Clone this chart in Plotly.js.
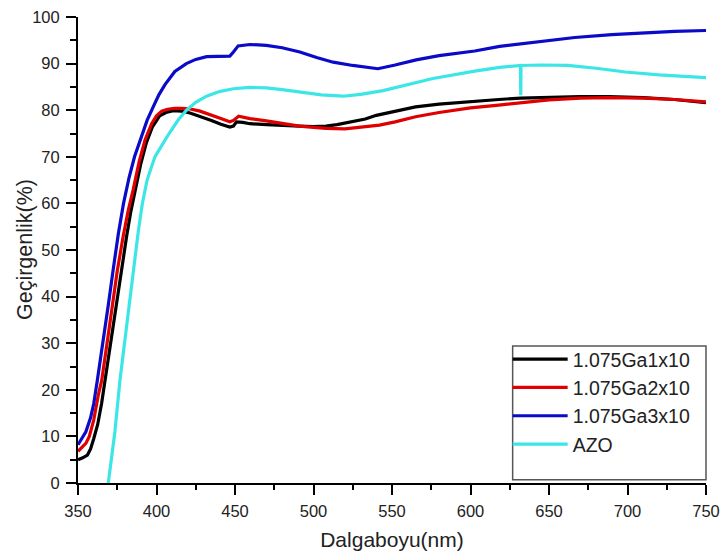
<!DOCTYPE html>
<html>
<head>
<meta charset="utf-8">
<script src="https://cdn.plot.ly/plotly-3.0.1.min.js"></script>
<style>html,body{margin:0;padding:0;background:#fff;}#chart{width:725px;height:558px;}</style>
</head>
<body>
<div id="chart"></div>
<script>
// 1.075Ga1x10 (black)
const xGa1 = [350,353,356,358,360,362.5,365,367.2,370.5,374,377.5,381,383.5,386.5,390,393.5,397.5,402,406,410.7,416,421.3,427.7,435,441,446.7,449,451,455,459.5,470,480,491,500,508,515,525,533,540,552,565,580,600,618,632,650,670,688,710,730,750];
const yGa1 = [5.0,5.4,6.0,7.3,9.5,12.5,17,22,30,38.2,46,53,58,63,68.5,73,76.5,78.8,79.5,79.9,79.8,79.4,78.7,77.8,77.0,76.4,76.6,77.5,77.4,77.1,76.9,76.7,76.6,76.5,76.6,76.9,77.5,78.1,78.9,79.7,80.7,81.3,81.9,82.3,82.6,82.8,82.9,82.9,82.7,82.3,81.6];
// 1.075Ga2x10 (red)
const xGa2 = [350,352,355,357.2,360,363,365.1,368.5,371.8,375,378.8,382,385.2,389,392.7,396.9,400,403.3,407,411.7,416,421,427.7,435,441,446.7,449,452.3,459.5,470,480,491,500,508,520,530,542,552,565,580,600,618,632,650,670,687,710,730,750];
const yGa2 = [6.8,7.5,8.5,10,13.5,19,22,30,38.2,45.5,53,58.5,63,69,73.6,77.1,78.8,79.8,80.2,80.4,80.4,80.3,79.8,79.0,78.2,77.5,77.8,78.7,78.2,77.7,77.1,76.6,76.3,76.1,76.0,76.3,76.8,77.5,78.6,79.5,80.5,81.1,81.6,82.2,82.6,82.7,82.6,82.3,81.8];
// 1.075Ga3x10 (blue)
const xGa3 = [350,353,355,358,360,362.3,365.5,369.3,372.5,375.7,379,382.5,386,390.5,394,397.9,401.5,405.4,411.7,419,425,431.9,440,446.7,449,452,459.5,470,480,491.3,502,512.5,525,535,541,552,565.4,580,602.7,618.6,640,666.4,690,710,730,750];
const yGa3 = [8.2,10,11,14,17,22,30,38.2,46,53.5,60,65.5,70,74.5,77.8,80.7,83.3,85.5,88.3,90,90.9,91.5,91.6,91.6,92.5,93.8,94.1,93.9,93.4,92.5,91.3,90.3,89.6,89.1,88.9,89.7,90.8,91.7,92.7,93.7,94.6,95.6,96.2,96.6,96.9,97.1];
// AZO (cyan)
const xAZO = [369.3,371,373.5,376.7,379.5,382.7,385.5,388.4,391,394,399,408,414,419.1,425,431.9,440,448.9,459.5,470,480,491.3,505,518.8,530,544.3,560,576.1,602.7,618.6,631.8,632,632.2,645,662,680,698.6,720,750];
const yAZO = [0,5,11,22,30,38.2,46,54,60,65,70,75,78,80,81.7,83,84,84.6,84.9,84.8,84.4,83.9,83.3,83.0,83.4,84.2,85.5,86.8,88.4,89.2,89.6,83.2,89.6,89.7,89.6,89.0,88.2,87.6,87.0];

const names = ['1.075Ga1x10','1.075Ga2x10','1.075Ga3x10','AZO'];
const colors = ['#000000','#e00000','#0a0ac8','#3de6e6'];
const xs = [xGa1,xGa2,xGa3,xAZO];
const ys = [yGa1,yGa2,yGa3,yAZO];

const FONT = 'Arial, "Liberation Sans", sans-serif';
const traces = names.map((n,i)=>({
  type:'scatter', mode:'lines', name:n, x:xs[i], y:ys[i],
  line:{color:colors[i], width:3.2}
}));

const L = 78, R = 706.5, T = 16.7, B = 483.3;
const pw = R-L, ph = B-T;

const axisCommon = {
  showgrid:false, zeroline:false, showline:true, linecolor:'#000', linewidth:2,
  ticks:'outside', ticklen:10, tickwidth:2, tickcolor:'#000',
  tickfont:{family:FONT, size:16.5, color:'#222'},
  mirror:false
};

const layout = {
  width:725, height:558,
  margin:{l:L, r:725-R, t:T, b:558-B, pad:0},
  paper_bgcolor:'#fff', plot_bgcolor:'#fff',
  font:{family:FONT, color:'#222'},
  xaxis:Object.assign({}, axisCommon, {
    range:[350,750], dtick:50, tick0:350, ticklabelstandoff:2,
    minor:{dtick:25, ticks:'outside', ticklen:5, tickwidth:2, tickcolor:'#000'},
    title:{text:'Dalgaboyu(nm)', font:{family:FONT, size:21, color:'#222'}, standoff:14}
  }),
  yaxis:Object.assign({}, axisCommon, {
    range:[0,100], dtick:10, tick0:0, ticklabelstandoff:3,
    minor:{dtick:5, ticks:'outside', ticklen:6, tickwidth:2, tickcolor:'#000'}
  }),
  annotations:[{
    text:'Geçirgenlik(%)', xref:'paper', yref:'paper',
    x:(25-L)/pw, y:(B-250)/ph, xanchor:'center', yanchor:'middle',
    textangle:-90, showarrow:false,
    font:{family:FONT, size:21.5, color:'#222'}
  }],
  showlegend:true,
  legend:{
    x:(508-L)/pw, y:(B-340)/ph, xanchor:'left', yanchor:'top',
    bgcolor:'rgba(0,0,0,0)', borderwidth:0,
    font:{family:FONT, size:19.5, color:'#222'},
    itemwidth:55, tracegroupgap:0
  },
  shapes:[{
    type:'rect', xref:'paper', yref:'paper',
    x0:(513-L)/pw, x1:1.0, y0:(B-480)/ph, y1:(B-346)/ph,
    line:{color:'#555', width:1.5}, fillcolor:'rgba(0,0,0,0)'
  }]
};

Plotly.newPlot('chart', traces, layout, {displayModeBar:false, staticPlot:true});
</script>
</body>
</html>
